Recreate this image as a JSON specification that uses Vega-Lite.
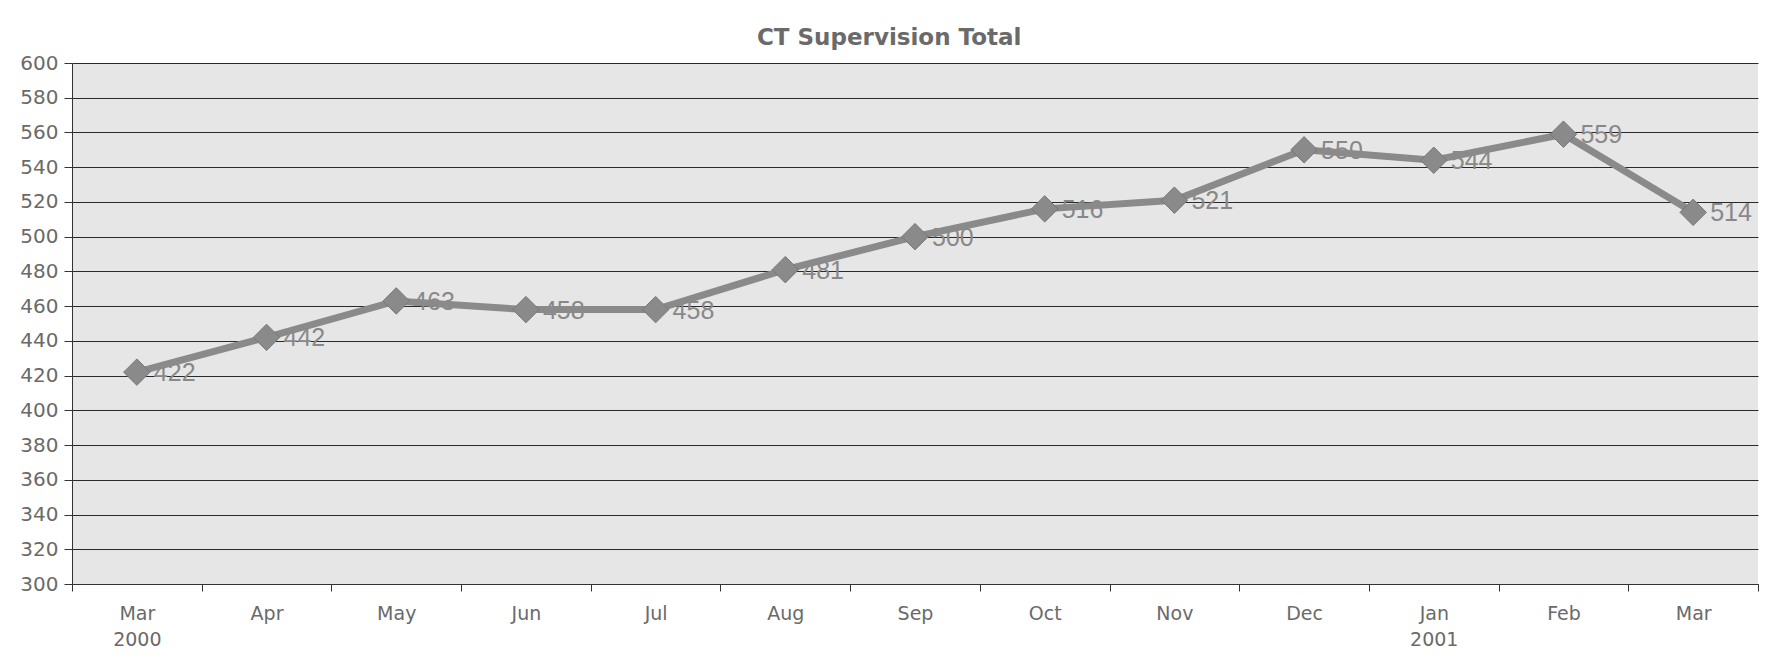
{
  "$schema": "https://vega.github.io/schema/vega-lite/v6.json",
  "width": 1686,
  "height": 521,
  "padding": {"left": 19, "top": 27, "right": 13, "bottom": 5},
  "background": "white",
  "title": {
    "text": "CT Supervision Total",
    "font": "DejaVu Sans",
    "fontSize": 23,
    "fontWeight": "bold",
    "color": "#6a6a6a",
    "anchor": "middle",
    "frame": "bounds",
    "offset": 3
  },
  "config": {
    "view": {"fill": "#e6e6e6", "stroke": null},
    "axis": {
      "labelFont": "DejaVu Sans",
      "labelFontSize": 19,
      "labelColor": "#6a6a6a",
      "domainColor": "#333333",
      "tickColor": "#333333",
      "title": null
    }
  },
  "data": {
    "values": [
      {"month": "Mar|2000", "value": 422},
      {"month": "Apr", "value": 442},
      {"month": "May", "value": 463},
      {"month": "Jun", "value": 458},
      {"month": "Jul", "value": 458},
      {"month": "Aug", "value": 481},
      {"month": "Sep", "value": 500},
      {"month": "Oct", "value": 516},
      {"month": "Nov", "value": 521},
      {"month": "Dec", "value": 550},
      {"month": "Jan|2001", "value": 544},
      {"month": "Feb", "value": 559},
      {"month": "Mar", "value": 514}
    ]
  },
  "encoding": {
    "x": {
      "field": "month",
      "type": "ordinal",
      "sort": null,
      "scale": {"type": "band", "paddingInner": 0, "paddingOuter": 0},
      "axis": {
        "labelAngle": 0,
        "tickBand": "extent",
        "tickSize": 7,
        "labelPadding": 13,
        "labelLineHeight": 26,
        "labelExpr": "isValid(datum.value) ? split(datum.value, '|') : ''",
        "grid": false
      }
    },
    "y": {
      "field": "value",
      "type": "quantitative",
      "scale": {"domain": [300, 600], "nice": false, "zero": false},
      "axis": {
        "values": [300, 320, 340, 360, 380, 400, 420, 440, 460, 480, 500, 520, 540, 560, 580, 600],
        "tickSize": 8,
        "labelPadding": 6,
        "labelFontSize": 20,
        "grid": true,
        "gridColor": "#2a2a2a",
        "gridWidth": 1,
        "gridOpacity": 1
      }
    }
  },
  "layer": [
    {
      "mark": {"type": "text", "align": "left", "baseline": "middle", "dx": 17, "dy": 1, "font": "Liberation Sans", "fontSize": 25, "color": "#888888"},
      "encoding": {"text": {"field": "value", "type": "quantitative"}}
    },
    {
      "mark": {"type": "line", "color": "#8a8a8a", "strokeWidth": 7},
      "encoding": {}
    },
    {
      "mark": {"type": "point", "shape": "diamond", "filled": true, "size": 700, "color": "#8a8a8a", "opacity": 1, "stroke": "#777777", "strokeWidth": 1},
      "encoding": {}
    }
  ]
}
